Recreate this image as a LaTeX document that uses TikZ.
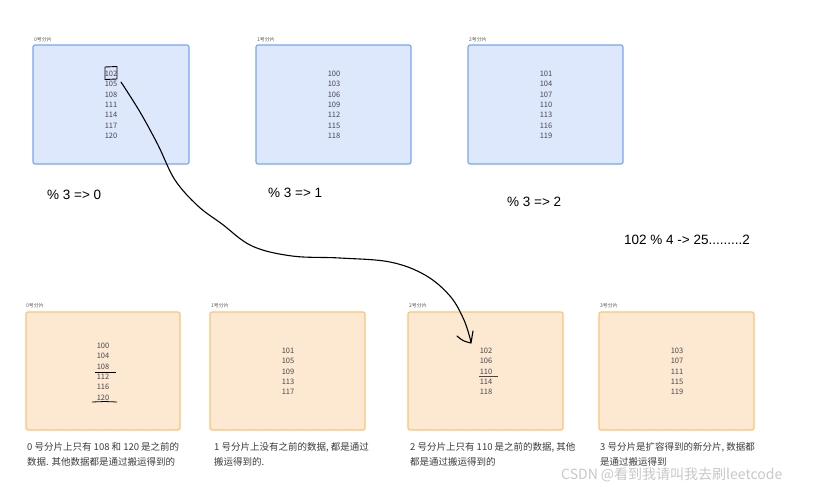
\documentclass[tikz,border=0pt]{standalone}
\usepackage{fontspec}
\setmainfont{Noto Sans CJK SC}
\newfontfamily\latinf{Liberation Sans}
\definecolor{topf}{RGB}{222,232,252}
\definecolor{topb}{RGB}{120,165,245}
\definecolor{botf}{RGB}{253,233,209}
\definecolor{botb}{RGB}{252,195,120}
\definecolor{numc}{RGB}{70,70,80}
\definecolor{capc}{RGB}{60,60,60}
\definecolor{wmc}{RGB}{200,200,200}
\begin{document}
\begin{tikzpicture}[x=1pt,y=-1pt,
  topbox/.style={draw=topb, fill=topf, rounded corners=2pt, line width=1.1pt, inner sep=0, outer sep=0, anchor=north west},
  botbox/.style={draw=botb, fill=botf, rounded corners=2pt, line width=1.1pt, inner sep=0, outer sep=0, anchor=north west},
  lbl/.style={font=\fontsize{5}{5}\selectfont, text=gray!70!black, anchor=west, inner sep=0},
  num/.style={font=\fontsize{7.5}{7.5}\selectfont, text=numc, inner sep=0},
  captxt/.style={font=\fontsize{9.5}{15}\selectfont, text=capc, anchor=north west, align=left, inner sep=0},
  modtxt/.style={font=\latinf\fontsize{13.5}{13.5}\selectfont, anchor=west, inner sep=0},
  hand/.style={line width=1.1pt, line cap=round, line join=round}]
\useasboundingbox[fill=white] (0,0) rectangle (814,490);

% top boxes
\node[topbox, minimum width=156pt, minimum height=119pt] (t0) at (33,45) {};
\node[topbox, minimum width=155pt, minimum height=119pt] (t1) at (256,45) {};
\node[topbox, minimum width=155pt, minimum height=119pt] (t2) at (468,45) {};
\node[lbl] (lt0) at (34,40) {0号分片};
\node[lbl] (lt1) at (257,40) {1号分片};
\node[lbl] (lt2) at (469,40) {2号分片};

\foreach \v [count=\i from 0] in {102,105,108,111,114,117,120}
  \node[num] (t0n\i) at (111,{74+10.3*\i}) {\v};
\foreach \v [count=\i from 0] in {100,103,106,109,112,115,118}
  \node[num] (t1n\i) at (334,{74+10.3*\i}) {\v};
\foreach \v [count=\i from 0] in {101,104,107,110,113,116,119}
  \node[num] (t2n\i) at (546,{74+10.3*\i}) {\v};

% bottom boxes
\node[botbox, minimum width=154pt, minimum height=118pt] (b0) at (26,312) {};
\node[botbox, minimum width=155pt, minimum height=118pt] (b1) at (210,312) {};
\node[botbox, minimum width=155pt, minimum height=118pt] (b2) at (408,312) {};
\node[botbox, minimum width=155pt, minimum height=118pt] (b3) at (599,312) {};
\node[lbl] (lb0) at (26,306) {0号分片};
\node[lbl] (lb1) at (211,306) {1号分片};
\node[lbl] (lb2) at (409,306) {2号分片};
\node[lbl] (lb3) at (600,306) {3号分片};

\foreach \v [count=\i from 0] in {100,104,108,112,116,120}
  \node[num] (b0n\i) at (103,{346+10.3*\i}) {\v};
\foreach \v [count=\i from 0] in {101,105,109,113,117}
  \node[num] (b1n\i) at (288,{351+10.3*\i}) {\v};
\foreach \v [count=\i from 0] in {102,106,110,114,118}
  \node[num] (b2n\i) at (486,{351+10.3*\i}) {\v};
\foreach \v [count=\i from 0] in {103,107,111,115,119}
  \node[num] (b3n\i) at (677,{351+10.3*\i}) {\v};

% underlines
\draw[line width=0.8pt] (95,372) -- (116,372);
\draw[line width=0.8pt] (92,402) -- (105,401.5) -- (117,402);
\draw[line width=0.8pt, numc] (479,376) -- (498,376);

% modulo texts
\node[modtxt] (m0) at (47,195) {\% 3 => 0};
\node[modtxt] (m1) at (268,193) {\% 3 => 1};
\node[modtxt] (m2) at (507,202) {\% 3 => 2};
\node[modtxt] (m4) at (624,240) {102 \% 4 -> 25.........2};

% captions
\node[captxt] (c0) at (27,442) {0 号分片上只有 108 和 120 是之前的\\数据. 其他数据都是通过搬运得到的};
\node[captxt] (c1) at (214,442) {1 号分片上没有之前的数据, 都是通过\\搬运得到的.};
\node[captxt] (c2) at (410,442) {2 号分片上只有 110 是之前的数据, 其他\\都是通过搬运得到的};
\node[captxt] (c3) at (600,442) {3 号分片是扩容得到的新分片, 数据都\\是通过搬运得到};

% watermark
\node[font=\fontsize{14}{14}\selectfont, text=wmc, anchor=west, inner sep=0] (wm) at (561,475) {CSDN @看到我请叫我去刷leetcode};

% hand-drawn annotation
\draw[hand, line width=0.9pt] (105,67) -- (117,66.5) -- (117,79) -- (105,79.5) -- cycle;
\coordinate (hs) at (121,82);
\coordinate (he) at (471,342);
\draw[hand] plot[smooth, tension=0.6] coordinates {(121,82) (140,112) (158,145) (175,180) (198,206) (222,224) (252,246) (292,256) (340,258) (390,262) (425,275) (450,296) (464,320) (471,342)};
\draw[hand] (457,336) .. controls (463,341) .. (471,343) -- (473,331);
\end{tikzpicture}
\end{document}
